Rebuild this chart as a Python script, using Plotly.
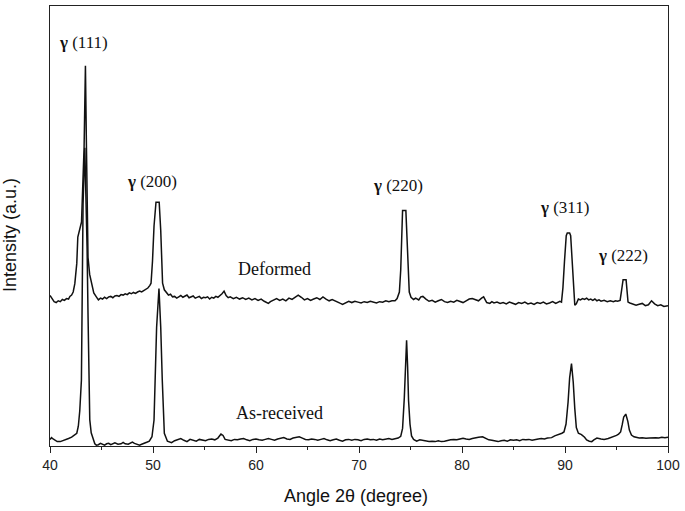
import plotly.graph_objects as go

# ---- Data (2θ in degrees, intensity in arbitrary units) ----
deformed_x = [40.0, 40.2, 40.4, 40.6, 40.8, 41.0, 41.2, 41.4, 41.6, 41.8, 41.93, 42.1, 42.25, 42.41, 42.6, 42.7,
              42.89, 43.06, 43.31, 43.44, 43.54, 43.69, 43.85, 44.02, 44.25, 44.5, 44.7, 44.9, 45.1, 45.3, 45.5,
              45.7, 45.9, 46.1, 46.3, 46.5, 46.7, 46.9, 47.1, 47.3, 47.5, 47.7, 47.9, 48.1, 48.3, 48.5, 48.7, 48.9,
              49.1, 49.3, 49.5, 49.7, 49.81, 49.95, 50.1, 50.29, 50.6, 50.75, 50.93, 51.1, 51.3, 51.5, 51.7, 51.9,
              52.1, 52.3, 52.5, 52.7, 52.9, 53.1, 53.3, 53.5, 53.7, 53.9, 54.1, 54.3, 54.5, 54.7, 54.9, 55.1, 55.3,
              55.5, 55.7, 55.9, 56.1, 56.3, 56.5, 56.7, 56.9, 57.1, 57.3, 57.5, 57.8, 58.1, 58.4, 58.7, 59.0, 59.3,
              59.6, 59.9, 60.2, 60.5, 60.8, 61.0, 61.2, 61.4, 61.7, 62.0, 62.3, 62.6, 62.9, 63.2, 63.5, 63.8, 64.1,
              64.4, 64.7, 65.0, 65.3, 65.6, 65.9, 66.2, 66.5, 66.8, 67.1, 67.4, 67.7, 68.0, 68.2, 68.4, 68.7, 69.0,
              69.3, 69.6, 69.9, 70.2, 70.5, 70.8, 71.1, 71.4, 71.7, 72.0, 72.3, 72.6, 72.9, 73.2, 73.5, 73.7, 73.92,
              74.05, 74.15, 74.23, 74.55, 74.68, 74.78, 74.88, 75.05, 75.3, 75.5, 75.8, 76.0, 76.2, 76.5, 76.8, 77.1,
              77.4, 77.7, 78.0, 78.3, 78.6, 78.9, 79.2, 79.5, 79.8, 80.1, 80.4, 80.7, 81.0, 81.3, 81.6, 81.9, 82.1,
              82.4, 82.7, 82.9, 83.1, 83.4, 83.7, 84.0, 84.3, 84.6, 84.9, 85.2, 85.5, 85.8, 86.1, 86.4, 86.7, 87.0,
              87.3, 87.6, 87.9, 88.2, 88.5, 88.8, 89.1, 89.3, 89.5, 89.66, 89.8, 89.95, 90.12, 90.22, 90.45, 90.55,
              90.7, 90.85, 90.95, 91.1, 91.3, 91.5, 91.7, 91.9, 92.1, 92.3, 92.5, 92.7, 92.9, 93.1, 93.3, 93.5, 93.8,
              94.1, 94.4, 94.7, 94.9, 95.1, 95.35, 95.5, 95.64, 95.93, 96.05, 96.12, 96.3, 96.6, 96.9, 97.2, 97.5,
              97.8, 98.1, 98.4, 98.7, 99.0, 99.3, 99.6, 100.0]
deformed_y = [34.2, 33.5, 32.8, 32.6, 33.0, 32.8, 33.3, 33.1, 33.5, 33.4, 34.0, 34.3, 35.0, 36.9, 41.5, 47.5,
              49.7, 50.9, 67.9, 86.4, 67.8, 42.9, 39.0, 36.9, 34.8, 33.9, 33.2, 33.6, 33.4, 33.8, 33.5,
              33.9, 34.0, 33.7, 34.1, 34.2, 34.0, 34.4, 34.3, 34.6, 34.4, 34.8, 34.6, 34.9, 34.7, 35.0, 35.2, 35.0,
              35.3, 35.6, 35.9, 36.5, 37.0, 42.0, 50.0, 55.4, 55.4, 49.0, 37.0, 35.5, 34.8, 34.3, 34.5, 33.9,
              34.0, 33.6, 33.9, 34.2, 33.8, 34.0, 34.3, 33.7, 33.9, 34.1, 33.6, 33.8, 34.0, 33.5, 33.8, 33.7, 33.9,
              33.4, 33.8, 33.6, 34.0, 33.8, 34.1, 34.6, 35.2, 34.2, 33.7, 33.9, 33.5, 33.8, 33.4, 33.7, 33.3, 33.6,
              33.2, 33.5, 33.1, 33.4, 32.9, 32.6, 32.4, 32.8, 33.2, 33.5, 33.1, 33.4, 33.0, 33.6, 33.3, 33.9, 34.3,
              33.8, 33.2, 33.5, 33.1, 33.4, 33.7, 33.3, 33.9, 33.4, 33.0, 33.3, 32.9, 32.6, 32.4, 32.2, 32.6, 32.9,
              32.6, 32.9, 32.7, 32.5, 32.8, 32.6, 32.9, 32.7, 32.5, 32.8, 32.7, 33.0, 32.8, 33.0, 33.0, 33.5, 35.0,
              40.0, 48.0, 53.5, 53.5, 47.0, 40.0, 35.0, 33.8, 33.3, 33.6, 33.2, 33.9, 34.0, 33.4, 32.9, 33.1,
              32.7, 33.0, 33.3, 32.8, 32.6, 32.9, 32.7, 33.1, 32.8, 32.6, 33.0, 33.4, 33.5, 33.2, 33.0, 33.6, 33.9,
              32.6, 32.4, 32.8, 32.5, 32.7, 32.4, 32.6, 32.3, 32.7, 32.5, 32.2, 32.6, 32.4, 32.7, 32.3, 32.5, 32.2,
              32.6, 32.4, 32.7, 32.3, 32.5, 32.8, 32.4, 32.6, 32.9, 32.7, 36.0, 42.0, 47.8, 48.4, 48.4, 47.8,
              42.0, 35.0, 32.0, 32.3, 33.4, 33.2, 33.5, 33.3, 33.6, 33.2, 33.4, 33.1, 33.4, 33.0, 33.2, 32.9, 33.1,
              32.8, 33.0, 32.8, 33.0, 32.9, 33.1, 35.5, 37.8, 37.8, 35.0, 32.7, 32.5, 32.3, 32.0, 32.2, 32.4,
              31.9, 32.1, 33.0, 32.3, 31.9, 32.1, 31.7, 31.9]

received_x = [40.0, 40.15, 40.3, 40.5, 40.7, 41.0, 41.3, 41.5, 41.8, 42.1, 42.4, 42.6, 42.75, 42.89, 43.05, 43.11,
              43.21, 43.38, 43.5, 43.6, 43.69, 43.78, 43.86, 44.0, 44.18, 44.35, 44.5, 44.7, 44.9, 45.1, 45.3, 45.5,
              45.7, 45.9, 46.1, 46.3, 46.6, 46.9, 47.1, 47.3, 47.6, 47.8, 48.0, 48.2, 48.5, 48.7, 48.9, 49.2, 49.45,
              49.64, 49.9, 50.1, 50.2, 50.35, 50.58, 50.75, 50.9, 51.0, 51.1, 51.4, 51.8, 52.1, 52.4, 52.7, 53.0,
              53.3, 53.6, 53.9, 54.2, 54.5, 54.8, 55.1, 55.4, 55.7, 56.0, 56.3, 56.6, 56.8, 57.0, 57.3, 57.6, 57.9,
              58.2, 58.5, 58.8, 59.1, 59.4, 59.7, 60.0, 60.3, 60.6, 60.9, 61.2, 61.5, 61.8, 62.1, 62.4, 62.7, 63.0,
              63.3, 63.6, 63.9, 64.2, 64.5, 64.8, 65.1, 65.4, 65.7, 66.0, 66.3, 66.6, 66.9, 67.2, 67.5, 67.8, 68.1,
              68.4, 68.7, 69.0, 69.3, 69.6, 69.9, 70.2, 70.5, 70.8, 71.1, 71.4, 71.7, 72.0, 72.3, 72.6, 72.9, 73.2,
              73.5, 73.8, 74.05, 74.23, 74.4, 74.52, 74.62, 74.72, 74.81, 74.95, 75.1, 75.3, 75.6, 75.9, 76.2, 76.5,
              76.8, 77.1, 77.4, 77.7, 78.0, 78.3, 78.6, 78.9, 79.2, 79.5, 79.8, 80.1, 80.4, 80.7, 81.0, 81.3, 81.6,
              82.0, 82.3, 82.6, 82.9, 83.2, 83.5, 83.8, 84.1, 84.4, 84.7, 85.0, 85.3, 85.6, 85.9, 86.2, 86.5, 86.8,
              87.1, 87.4, 87.7, 88.0, 88.3, 88.7, 89.0, 89.4, 89.7, 89.9, 90.1, 90.3, 90.45, 90.63, 90.8, 90.95,
              91.1, 91.3, 91.6, 91.9, 92.1, 92.36, 92.6, 92.8, 93.1, 93.5, 93.8, 94.2, 94.6, 95.0, 95.2, 95.4,
              95.55, 95.7, 95.9, 96.1, 96.25, 96.45, 96.7, 96.9, 97.2, 97.5, 97.86, 98.2, 98.5, 98.8, 99.1, 99.4,
              99.7, 100.0]
received_y = [1.5, 1.9, 1.6, 1.2, 1.0, 1.0, 1.2, 1.5, 1.7, 2.0, 2.6, 2.9, 4.5, 8.0, 15.0, 37.6,
              55.0, 67.8, 57.0, 45.0, 30.0, 15.0, 6.0, 3.0, 1.4, 0.5, 0.2, 0.3, 0.6, 0.4, 0.2, 0.5,
              0.6, 0.3, 0.5, 0.7, 0.4, 0.5, 0.8, 0.5, 0.4, 0.6, 0.9, 0.6, 0.3, 0.2, 0.4, 0.6, 0.9,
              1.1, 2.1, 5.9, 15.0, 27.0, 35.8, 27.0, 15.0, 7.0, 2.9, 1.1, 0.75, 1.2, 1.4, 1.7, 1.3,
              1.0, 1.5, 1.3, 1.1, 1.5, 1.4, 1.2, 1.5, 1.6, 1.4, 1.8, 2.7, 2.4, 1.5, 1.3, 1.2, 1.5,
              1.4, 1.6, 1.7, 1.4, 1.2, 1.5, 1.6, 1.4, 1.3, 1.5, 1.7, 1.5, 1.3, 1.6, 1.8, 1.9, 1.6,
              1.5, 1.8, 2.0, 2.1, 1.8, 1.5, 1.4, 1.6, 1.5, 1.3, 1.5, 1.7, 1.4, 1.2, 1.4, 1.6, 1.3,
              1.1, 1.4, 1.5, 1.3, 1.5, 1.4, 1.2, 1.5, 1.6, 1.4, 1.5, 1.3, 1.6, 1.4, 1.5, 1.7, 1.5,
              1.6, 1.8, 2.2, 4.0, 11.0, 19.0, 24.0, 18.0, 10.4, 5.0, 2.3, 1.5, 1.1, 1.4, 1.3, 1.2,
              1.0, 1.1, 1.0, 1.2, 1.0, 1.1, 1.3, 1.4, 1.5, 1.4, 1.6, 1.75, 1.6, 1.5, 1.7, 1.9, 2.0,
              2.1, 1.8, 1.4, 1.3, 1.1, 1.0, 1.2, 1.3, 1.1, 1.4, 1.3, 1.4, 1.2, 1.5, 1.4, 1.5, 1.3,
              1.5, 1.6, 1.7, 1.6, 1.8, 1.9, 2.3, 2.6, 2.9, 3.2, 5.0, 10.0, 15.5, 18.75, 14.5, 8.5,
              4.2, 2.9, 2.6, 2.0, 1.4, 1.1, 1.0, 1.4, 1.8, 1.6, 1.5, 1.7, 2.0, 2.4, 2.7, 3.2,
              4.8, 6.6, 7.26, 5.6, 3.6, 2.5, 2.1, 2.0, 1.8, 1.9, 1.75, 1.8, 1.9, 1.9, 1.8, 2.0,
              1.9, 2.0]

assert len(deformed_x) == len(deformed_y), (len(deformed_x), len(deformed_y))
assert len(received_x) == len(received_y), (len(received_x), len(received_y))

peak_labels = ["γ (111)", "γ (200)", "γ (220)", "γ (311)", "γ (222)"]
peak_label_x = [43.28, 49.93, 73.75, 89.95, 95.64]
peak_label_y = [91.8, 60.1, 59.2, 54.2, 43.3]
series_names = ["Deformed", "As-received"]
series_label_x = [61.84, 62.28]
series_label_y = [40.25, 7.48]
x_ticks = [40, 50, 60, 70, 80, 90, 100]

fig = go.Figure()
for xs, ys, nm in [(deformed_x, deformed_y, series_names[0]), (received_x, received_y, series_names[1])]:
    fig.add_trace(go.Scatter(x=xs, y=ys, mode="lines", name=nm,
                             line=dict(color="#111111", width=1.5), showlegend=False))

serif = "Liberation Serif, Times New Roman, serif"
sans = "Liberation Sans, Arial, sans-serif"
annotations = []
for t, x, y in zip(peak_labels, peak_label_x, peak_label_y):
    g, rest = t.split(" ", 1)
    annotations.append(dict(x=x, y=y, xref="x", yref="y", text="<b>" + g + "</b> " + rest,
                            xanchor="center", yanchor="middle",
                            showarrow=False, font=dict(family=serif, size=17, color="#111111")))
for t, x, y in zip(series_names, series_label_x, series_label_y):
    annotations.append(dict(x=x, y=y, xref="x", yref="y", text=t, showarrow=False,
                            xanchor="center", yanchor="middle",
                            font=dict(family=serif, size=18, color="#111111")))
annotations.append(dict(x=0.495, y=-0.113, xref="paper", yref="paper", text="Angle 2θ (degree)",
                        xanchor="center", yanchor="middle",
                        showarrow=False, font=dict(family=sans, size=18, color="#111111")))
annotations.append(dict(x=-0.0643, y=0.48, xref="paper", yref="paper", text="Intensity (a.u.)",
                        xanchor="center", yanchor="middle",
                        showarrow=False, textangle=-90, font=dict(family=sans, size=18, color="#111111")))

fig.update_layout(
    width=685, height=511,
    margin=dict(l=50, r=13, t=5, b=65),
    paper_bgcolor="white", plot_bgcolor="white",
    annotations=annotations,
    xaxis=dict(range=[40, 100], tickvals=x_ticks, ticks="outside", ticklen=6, tickwidth=1.2,
               tickcolor="#222222", showline=True, linecolor="#222222", linewidth=1.3, mirror=True,
               showgrid=False, zeroline=False,
               tickfont=dict(family=sans, size=14, color="#222222"),
               minor=dict(ticks="outside", ticklen=3, tickwidth=1.2, tickcolor="#222222", dtick=5,
                          showgrid=False)),
    yaxis=dict(range=[0, 100], showticklabels=False, ticks="", showline=True, linecolor="#222222",
               linewidth=1.3, mirror=True, showgrid=False, zeroline=False),
)

fig.write_html("out.html", config={"displayModeBar": False},
               post_script="document.body.style.margin='0';document.body.style.overflow='hidden';")
